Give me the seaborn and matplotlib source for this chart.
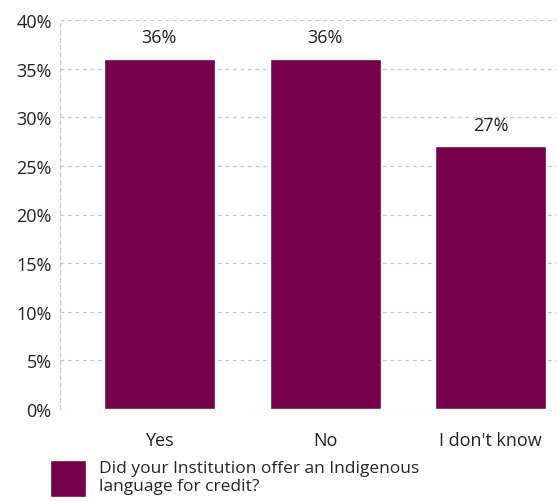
import seaborn as sns
import pandas as pd
import matplotlib.pyplot as plt

answers = ['Yes', 'No', "I don't know"]
shares = [36, 36, 27]
series_name = 'Did your Institution offer an Indigenous\nlanguage for credit?'

sns.set_style('white')
plt.rcParams['font.family'] = ['Open Sans', 'DejaVu Sans']

df = pd.DataFrame({'answer': answers, 'share': shares})

fig = plt.figure(figsize=(5.57, 5.02), dpi=100)
ax = fig.add_axes([60 / 557, 92 / 502, 1 - 60 / 557, (410 - 21) / 502])

sns.barplot(data=df, x='answer', y='share', color='#75004a', width=0.67,
            saturation=1, ax=ax, label=series_name, zorder=3)

for c in ax.containers:
    ax.bar_label(c, labels=[f'{v}%' for v in shares], padding=9, fontsize=13, color='#222222')

ax.set_ylim(0, 40)
ax.set_xlim(-0.6, 2.4)
ax.set_yticks(range(0, 41, 5))
ax.set_yticklabels([f'{t}%' for t in range(0, 41, 5)])
ax.yaxis.grid(True, linestyle=(0, (3, 3)), color='#c8c8c8', linewidth=0.9, zorder=0)
ax.set_xlabel('')
ax.set_ylabel('')
for s in ['top', 'right', 'bottom']:
    ax.spines[s].set_visible(False)
ax.spines['left'].set_linestyle((0, (3, 3)))
ax.spines['left'].set_color('#c8c8c8')
ax.spines['left'].set_linewidth(0.9)
ax.tick_params(axis='x', length=0, pad=16, labelsize=13, labelcolor='#222222')
ax.tick_params(axis='y', length=0, pad=6, labelsize=13, labelcolor='#222222')

ax.legend(loc='upper left', bbox_to_anchor=(-10 / 497, -0.13), frameon=False,
          fontsize=12.5, handlelength=2.1, handleheight=2.9, handletextpad=0.75,
          borderaxespad=0, labelspacing=0, borderpad=0)

fig.savefig('out.png', dpi=100)
